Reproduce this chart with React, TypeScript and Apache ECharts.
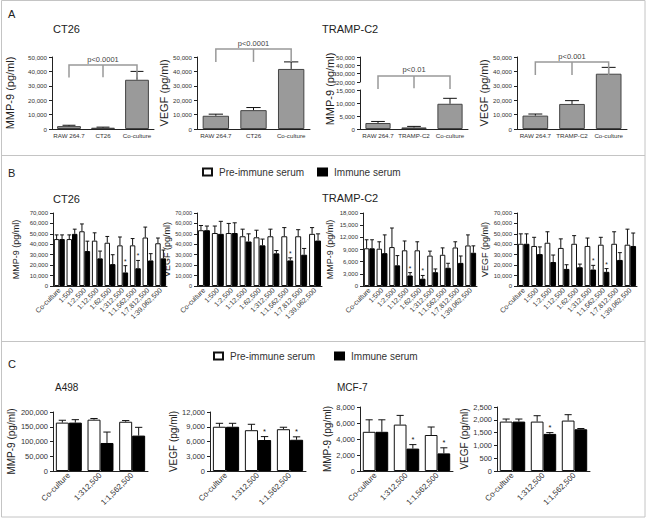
import React, { useEffect, useRef } from 'react';
import * as echarts from 'echarts';

const FONT = '"Liberation Sans", Arial, Helvetica, sans-serif';

// ---------- Panel A ----------
const catsCT26 = ['RAW 264.7', 'CT26', 'Co-culture'];
const catsTRAMP = ['RAW 264.7', 'TRAMP-C2', 'Co-culture'];
const a1Mean = [2000, 900, 34200];
const a1Err = [2600, 1300, 40000];
const a2Mean = [9200, 13100, 41700];
const a2Err = [10300, 14900, 46600];
const a3Mean = [2300, 600, 9700];
const a3Err = [2900, 1000, 11800];
const a4Mean = [9300, 17400, 38400];
const a4Err = [10400, 19700, 42800];

// ---------- Panel B ----------
const dil9 = ['Co-culture', '1:500', '1:2,500', '1:12,500', '1:62,500', '1:312,500', '1:1,562,500', '1:7,812,500', '1:39,062,500'];
const b1Pre = [45000, 45000, 52500, 43500, 41500, 39000, 39000, 46500, 41000];
const b1PreErr = [49000, 49000, 59500, 51000, 47500, 47000, 45500, 56500, 46000];
const b1Imm = [45000, 50000, 33500, 26500, 21000, 13000, 17000, 24500, 26500];
const b1ImmErr = [49000, 54500, 43000, 33500, 30000, 19500, 24500, 31000, 34500];
const b1Stars = [5, 6];

const b2Pre = [53500, 50800, 50800, 47700, 46700, 47700, 47700, 47700, 50000];
const b2PreErr = [58000, 57500, 60000, 54500, 53500, 54500, 56000, 54000, 56000];
const b2Imm = [53500, 50000, 50800, 42700, 39000, 31300, 24500, 30000, 43600];
const b2ImmErr = [57500, 62000, 60600, 50000, 45000, 34000, 27000, 36000, 50000];
const b2Stars = [6];

const b3Pre = [9300, 9200, 9600, 8800, 8800, 7500, 7700, 9500, 10000];
const b3PreErr = [11400, 10900, 14300, 11100, 10900, 8600, 9400, 10900, 12600];
const b3Imm = [9300, 8100, 5100, 2600, 1800, 3400, 4500, 5700, 8200];
const b3ImmErr = [11400, 12600, 7500, 3300, 2600, 4200, 5600, 7400, 9900];
const b3Stars = [3, 4];

const b4Pre = [40500, 38400, 41500, 36500, 40500, 38400, 39600, 40500, 39600];
const b4PreErr = [50000, 46700, 52000, 45200, 48300, 46000, 46700, 52000, 54500];
const b4Imm = [40500, 30600, 23000, 16400, 18000, 15800, 13600, 25000, 38400];
const b4ImmErr = [50000, 37500, 29700, 20400, 21000, 19800, 16700, 32000, 50800];
const b4Stars = [5, 6];

// ---------- Panel C ----------
const dil3 = ['Co-culture', '1:312,500', '1:1,562,500'];
const c1Pre = [164000, 174000, 167000];
const c1PreErr = [172000, 178000, 171000];
const c1Imm = [164000, 95000, 120000];
const c1ImmErr = [174000, 132000, 148000];
const c1Stars: number[] = [];

const c2Pre = [9000, 8300, 8500];
const c2PreErr = [9700, 9500, 8900];
const c2Imm = [9000, 6300, 6350];
const c2ImmErr = [9700, 7000, 6950];
const c2Stars = [1, 2];

const c3Pre = [4900, 5800, 4500];
const c3PreErr = [6400, 6950, 5500];
const c3Imm = [4900, 2800, 2200];
const c3ImmErr = [6400, 3300, 2900];
const c3Stars = [1, 2];

const c4Pre = [1930, 1930, 1970];
const c4PreErr = [2030, 2160, 2200];
const c4Imm = [1930, 1450, 1630];
const c4ImmErr = [2030, 1500, 1660];
const c4Stars = [1];

const PRE = 'Pre-immune serum';
const IMM = 'Immune serum';

const fmt = (v: number) => String(v).replace(/\B(?=(\d{3})+(?!\d))/g, ',');

function xAx(gi: number, cats: string[], rotate: number, size: number, show = true) {
  return {
    type: 'category', gridIndex: gi, data: cats, show,
    axisLine: { show: true, lineStyle: { color: '#222', width: 1 } },
    axisTick: { show: false },
    axisLabel: { interval: 0, rotate, fontFamily: FONT, fontSize: size, color: '#333', margin: 3 },
    splitLine: { show: false },
  };
}

function yAx(gi: number, max: number, interval: number, name: string, nameGap: number, nameSize: number, labelSize: number, min = 0) {
  return {
    type: 'value', gridIndex: gi, min, max, interval,
    name, nameLocation: 'middle', nameGap, nameRotate: 90,
    nameTextStyle: { fontFamily: FONT, fontSize: nameSize, color: '#222' },
    axisLine: { show: true, lineStyle: { color: '#222', width: 1 } },
    axisTick: { show: true, length: 3, lineStyle: { color: '#222' } },
    axisLabel: { fontFamily: FONT, fontSize: labelSize, color: '#333', margin: 5, formatter: fmt },
    splitLine: { show: false },
  };
}

function errSeries(gi: number, means: number[], errs: number[], offset: number, capFrac: number, stars: number[] = [], starSize = 7, yi?: number) {
  return {
    type: 'custom', xAxisIndex: gi, yAxisIndex: yi ?? gi, clip: false, z: 5, silent: true,
    data: means.map((m, i) => [i, m, errs[i], stars.includes(i) ? 1 : 0]),
    encode: { x: 0, y: 1 },
    renderItem: (params: any, api: any) => {
      const i = api.value(0);
      const band = api.size([1, 0])[0];
      const p0 = api.coord([i, api.value(1)]);
      const p1 = api.coord([i, api.value(2)]);
      const x = p0[0] + offset * band;
      const cap = (capFrac * band) / 2;
      const children: any[] = [
        { type: 'line', shape: { x1: x, y1: p0[1], x2: x, y2: p1[1] }, style: { stroke: '#111', lineWidth: 1 } },
        { type: 'line', shape: { x1: x - cap, y1: p1[1], x2: x + cap, y2: p1[1] }, style: { stroke: '#111', lineWidth: 1 } },
      ];
      if (api.value(3)) {
        children.push({ type: 'text', x, y: p1[1] - 1, style: { text: '*', fill: '#111', fontSize: starSize, fontFamily: FONT, align: 'center', verticalAlign: 'bottom' } });
      }
      return { type: 'group', children };
    },
  };
}

function bracketSeries(gi: number, top: number, end: number, midEnd: number, label: string) {
  return {
    type: 'custom', xAxisIndex: gi, yAxisIndex: gi, clip: false, z: 6, silent: true,
    data: [[0, top]],
    encode: { x: 0, y: 1 },
    renderItem: (params: any, api: any) => {
      const pL = api.coord([0, top]);
      const pM = api.coord([1, top]);
      const pR = api.coord([2, top]);
      const yEnd = api.coord([0, end])[1];
      const yMid = api.coord([1, midEnd])[1];
      return {
        type: 'group',
        children: [
          { type: 'polyline', shape: { points: [[pL[0], yEnd], [pL[0], pL[1]], [pR[0], pR[1]], [pR[0], yEnd]] }, style: { stroke: '#999', lineWidth: 1.5, fill: 'none' } },
          { type: 'line', shape: { x1: pM[0], y1: pM[1], x2: pM[0], y2: yMid }, style: { stroke: '#999', lineWidth: 1.5 } },
          { type: 'text', x: pM[0], y: pM[1] - 2, style: { text: label, fill: '#444', fontSize: 7.5, fontFamily: FONT, align: 'center', verticalAlign: 'bottom' } },
        ],
      };
    },
  };
}

function greyBar(gi: number, data: number[], yi?: number) {
  return {
    type: 'bar', xAxisIndex: gi, yAxisIndex: yi ?? gi, data, barWidth: '70%', silent: true,
    itemStyle: { color: '#9a9a9a', borderColor: '#444', borderWidth: 1 },
  };
}

function pairBars(gi: number, pre: number[], imm: number[], gap: string) {
  return [
    { type: 'bar', name: PRE, xAxisIndex: gi, yAxisIndex: gi, data: pre, barGap: '0%', barCategoryGap: gap, silent: true, itemStyle: { color: '#fff', borderColor: '#111', borderWidth: 1 } },
    { type: 'bar', name: IMM, xAxisIndex: gi, yAxisIndex: gi, data: imm, barGap: '0%', barCategoryGap: gap, silent: true, itemStyle: { color: '#000', borderColor: '#000', borderWidth: 1 } },
  ];
}

function buildOption() {
  const g = (left: number, top: number, width: number, height: number) => ({ left, top, width, height, containLabel: false, outerBoundsMode: 'none' });
  const grid = [
    g(52, 57, 102, 72), // 0 A1
    g(197, 57, 113, 72), // 1 A2
    g(360, 90, 108, 39), // 2 A3 lower
    g(360, 57, 108, 25), // 3 A3 upper
    g(517, 57, 110, 72), // 4 A4
    g(53, 213, 114, 73), // 5 B1
    g(197, 213, 125, 73), // 6 B2
    g(363, 213, 114, 73), // 7 B3
    g(517, 213, 120, 73), // 8 B4
    g(53, 412, 95, 59), // 9 C1
    g(210, 412, 96, 59), // 10 C2
    g(360, 407, 93, 64), // 11 C3
    g(497, 407, 93, 64), // 12 C4
  ];

  const xAxis = [
    xAx(0, catsCT26, 0, 6.2),
    xAx(1, catsCT26, 0, 6.2),
    xAx(2, catsTRAMP, 0, 6.2),
    xAx(3, catsTRAMP, 0, 6.2, false),
    xAx(4, catsTRAMP, 0, 6.2),
    xAx(5, dil9, 45, 7),
    xAx(6, dil9, 45, 7),
    xAx(7, dil9, 45, 7),
    xAx(8, dil9, 45, 7),
    xAx(9, dil3, 45, 8),
    xAx(10, dil3, 45, 8),
    xAx(11, dil3, 45, 8),
    xAx(12, dil3, 45, 8),
  ];

  const yAxis = [
    yAx(0, 50000, 10000, 'MMP-9 (pg/ml)', 37, 11, 6.2),
    yAx(1, 50000, 10000, 'VEGF (pg/ml)', 21, 11, 6.2),
    yAx(2, 15000, 5000, '', 0, 11, 6.2),
    yAx(3, 50000, 10000, '', 0, 11, 6.2, 20000),
    yAx(4, 50000, 10000, 'VEGF (pg/ml)', 20.5, 11, 6.2),
    yAx(5, 70000, 10000, 'MMP-9 (pg/ml)', 32.5, 9, 6),
    yAx(6, 70000, 10000, 'VEGF (pg/ml)', 15, 9, 5.5),
    yAx(7, 18000, 3000, 'MMP-9 (pg/ml)', 28.5, 9, 6),
    yAx(8, 70000, 10000, 'VEGF (pg/ml)', 21.5, 9, 6),
    yAx(9, 200000, 50000, 'MMP-9 (pg/ml)', 34, 10, 7.5),
    yAx(10, 12000, 3000, 'VEGF (pg/ml)', 29, 10, 7.5),
    yAx(11, 8000, 2000, 'MMP-9 (pg/ml)', 27, 10, 7.5),
    yAx(12, 2500, 500, 'VEGF (pg/ml)', 20, 10, 7.5),
  ];

  const series: any[] = [
    greyBar(0, a1Mean), errSeries(0, a1Mean, a1Err, 0, 0.38),
    bracketSeries(0, 44400, 35700, 36000, 'p<0.0001'),
    greyBar(1, a2Mean), errSeries(1, a2Mean, a2Err, 0, 0.38),
    bracketSeries(1, 55500, 46600, 46600, 'p<0.0001'),
    greyBar(2, a3Mean), errSeries(2, a3Mean, a3Err, 0, 0.38),
    bracketSeries(2, 20400, 15400, 15700, 'p<0.01'),
    greyBar(4, a4Mean), errSeries(4, a4Mean, a4Err, 0, 0.38),
    bracketSeries(4, 46500, 37500, 37500, 'p<0.001'),
  ];

  const bGap = '14%';
  const bOff = 0.215;
  const bSets = [
    [5, b1Pre, b1PreErr, b1Imm, b1ImmErr, b1Stars],
    [6, b2Pre, b2PreErr, b2Imm, b2ImmErr, b2Stars],
    [7, b3Pre, b3PreErr, b3Imm, b3ImmErr, b3Stars],
    [8, b4Pre, b4PreErr, b4Imm, b4ImmErr, b4Stars],
  ] as any[];
  bSets.forEach(([gi, pre, preErr, imm, immErr, stars]) => {
    series.push(...pairBars(gi, pre, imm, bGap));
    series.push(errSeries(gi, pre, preErr, -bOff, 0.3));
    series.push(errSeries(gi, imm, immErr, bOff, 0.3, stars, 6.5));
  });

  const cGap = '18%';
  const cOff = 0.205;
  const cSets = [
    [9, c1Pre, c1PreErr, c1Imm, c1ImmErr, c1Stars],
    [10, c2Pre, c2PreErr, c2Imm, c2ImmErr, c2Stars],
    [11, c3Pre, c3PreErr, c3Imm, c3ImmErr, c3Stars],
    [12, c4Pre, c4PreErr, c4Imm, c4ImmErr, c4Stars],
  ] as any[];
  cSets.forEach(([gi, pre, preErr, imm, immErr, stars]) => {
    series.push(...pairBars(gi, pre, imm, cGap));
    series.push(errSeries(gi, pre, preErr, -cOff, 0.23));
    series.push(errSeries(gi, imm, immErr, cOff, 0.23, stars, 7.5));
  });

  const legendBase = {
    data: [PRE, IMM], orient: 'horizontal', icon: 'rect', itemWidth: 9, itemHeight: 7,
    padding: 0, selectedMode: false,
    textStyle: { fontFamily: FONT, fontSize: 10, color: '#333', padding: [0, 0, 0, 2] },
  };

  const txt = (x: number, y: number, text: string, size: number) => ({
    type: 'text', x, y, silent: true,
    style: { text, fontSize: size, fontFamily: FONT, fill: '#222', align: 'left', verticalAlign: 'top' },
  });

  const graphic = [
    { type: 'rect', silent: true, shape: { x: 1.5, y: 0.5, width: 643.5, height: 516.5 }, style: { fill: 'none', stroke: '#c4c4c4', lineWidth: 1 } },
    { type: 'line', silent: true, shape: { x1: 1.5, y1: 155.5, x2: 645, y2: 155.5 }, style: { stroke: '#c4c4c4', lineWidth: 1 } },
    { type: 'line', silent: true, shape: { x1: 1.5, y1: 341.5, x2: 645, y2: 341.5 }, style: { stroke: '#c4c4c4', lineWidth: 1 } },
    txt(8, 8, 'A', 11),
    txt(53, 23, 'CT26', 11),
    txt(322, 23, 'TRAMP-C2', 11),
    txt(8, 167, 'B', 11),
    txt(53, 193, 'CT26', 11),
    txt(322, 192, 'TRAMP-C2', 11),
    txt(8, 358, 'C', 11),
    txt(55, 382, 'A498', 10),
    txt(337, 382, 'MCF-7', 10),
    {
      type: 'text', x: 330, y: 89, rotation: Math.PI / 2, silent: true,
      style: { text: 'MMP-9 (pg/ml)', fontSize: 11, fontFamily: FONT, fill: '#222', align: 'center', verticalAlign: 'middle' },
    },
  ];

  return {
    animation: false,
    backgroundColor: '#fff',
    textStyle: { fontFamily: FONT },
    grid,
    xAxis,
    yAxis,
    series,
    legend: [
      { ...legendBase, left: 202, top: 167, itemGap: 13 },
      { ...legendBase, left: 213, top: 351, itemGap: 19 },
    ],
    graphic,
  };
}

export default function App() {
  const ref = useRef<HTMLDivElement>(null);
  useEffect(() => {
    document.body.style.margin = '0';
    const chart = echarts.init(ref.current!, null, { renderer: 'svg' });
    chart.setOption(buildOption() as any);
    return () => chart.dispose();
  }, []);
  return <div ref={ref} style={{ width: 646, height: 518, background: '#fff' }} />;
}
